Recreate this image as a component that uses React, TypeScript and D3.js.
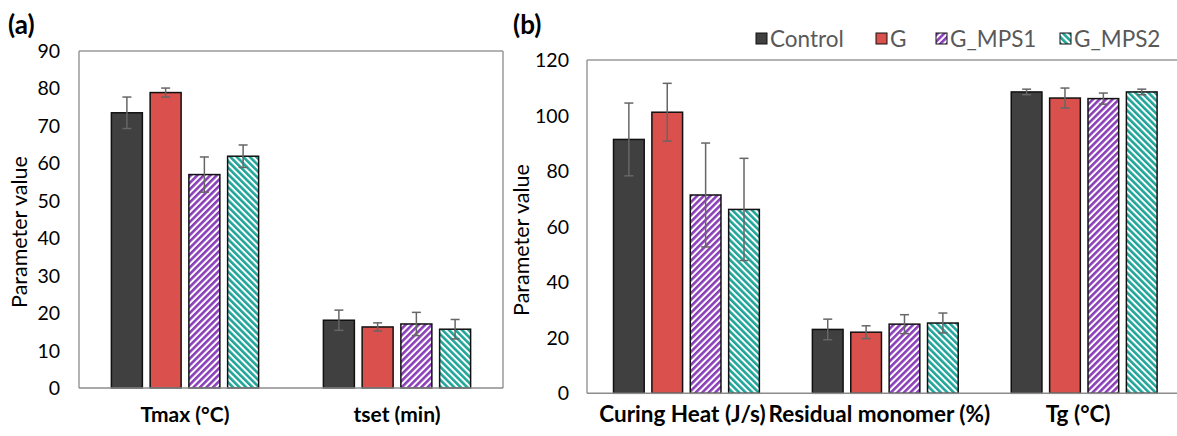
import React from "react";
import * as d3 from "d3";

const series = ["Control", "G", "G_MPS1", "G_MPS2"];
const seriesColors = ["#404040", "#D9504C", "#8A3FB8", "#1FA499"];

const catsA = ["Tmax (°C)", "tset (min)"];
const valuesA = [
  [73.5, 18.1],
  [78.9, 16.3],
  [57.0, 17.1],
  [61.9, 15.7],
];
const errorsA = [
  [4.2, 2.7],
  [1.2, 1.1],
  [4.7, 3.1],
  [3.0, 2.6],
];
const ticksA = [0, 10, 20, 30, 40, 50, 60, 70, 80, 90];

const catsB = ["Curing Heat (J/s)", "Residual monomer (%)", "Tg (°C)"];
const valuesB = [
  [91.4, 23.0, 108.5],
  [101.2, 22.0, 106.3],
  [71.4, 24.9, 106.1],
  [66.2, 25.3, 108.5],
];
const errorsB = [
  [13.1, 3.7, 1.0],
  [10.4, 2.3, 3.6],
  [18.7, 3.4, 2.0],
  [18.4, 3.6, 1.0],
];
const ticksB = [0, 20, 40, 60, 80, 100, 120];

const FONT = "Lato, 'Open Sans', sans-serif";

function Panel({ cats, values, errors, ticks, xRange, yRange, yMax, groupPad, labelDx, labelSize, tickX, titleX, titleY, showRight, rightEdge }) {
  const x = d3.scaleBand().domain(cats).range(xRange).paddingInner(groupPad).paddingOuter(groupPad / 2);
  const xs = d3.scaleBand().domain(series).range([0, x.bandwidth()]).paddingInner(0.2).paddingOuter(0.1);
  const y = d3.scaleLinear().domain([0, yMax]).range(yRange);
  const [x0, x1] = xRange;
  const yTop = y(yMax);
  const yBot = y(0);
  return (
    <g>
      <line x1={x0} x2={rightEdge} y1={yTop} y2={yTop} stroke="#9a9a9a" strokeWidth={1.5} />
      <line x1={x0} x2={x0} y1={yTop} y2={yBot} stroke="#9a9a9a" strokeWidth={1.5} />
      {showRight && <line x1={x1} x2={x1} y1={yTop} y2={yBot} stroke="#9a9a9a" strokeWidth={1.5} />}
      {ticks.map((t) => (
        <text key={t} x={tickX} y={y(t)} dy="0.36em" textAnchor="end" fontFamily={FONT} fontSize={19.5} fill="#000">
          {t}
        </text>
      ))}
      {series.map((s, si) =>
        cats.map((c, ci) => {
          const bx = (x(c) as number) + (xs(s) as number);
          const v = values[si][ci];
          const fill = si < 2 ? seriesColors[si] : `url(#pat${si})`;
          return (
            <rect key={s + c} x={bx} y={y(v)} width={xs.bandwidth()} height={yBot - y(v)} fill={fill} stroke="#111" strokeWidth={1.5} />
          );
        })
      )}
      {series.map((s, si) =>
        cats.map((c, ci) => {
          const cx = (x(c) as number) + (xs(s) as number) + xs.bandwidth() / 2;
          const v = values[si][ci];
          const e = errors[si][ci];
          return (
            <g key={"e" + s + c} stroke="#666" strokeWidth={1.5}>
              <line x1={cx} x2={cx} y1={y(v + e)} y2={y(v - e)} />
              <line x1={cx - 4.5} x2={cx + 4.5} y1={y(v + e)} y2={y(v + e)} />
              <line x1={cx - 4.5} x2={cx + 4.5} y1={y(v - e)} y2={y(v - e)} />
            </g>
          );
        })
      )}
      <line x1={x0} x2={rightEdge} y1={yBot} y2={yBot} stroke="#8c8c8c" strokeWidth={1.5} />
      {cats.map((c, ci) => (
        <text
          key={c}
          x={(x(c) as number) + x.bandwidth() / 2 + labelDx[ci]}
          y={422}
          textAnchor="middle"
          fontFamily={FONT}
          fontWeight="bold"
          fontSize={labelSize}
          fill="#000"
        >
          {c}
        </text>
      ))}
      <text transform={`translate(${titleX},${titleY}) rotate(-90)`} textAnchor="middle" fontFamily={FONT} fontSize={21.5} fill="#000">
        Parameter value
      </text>
    </g>
  );
}

const legendX = [756, 876, 936, 1060];

export default function App() {
  return (
    <svg width={1177} height={436} style={{ position: "absolute", left: 0, top: 0, background: "#fff" }}>
      <defs>
        <pattern id="pat2" patternUnits="userSpaceOnUse" width={4.6} height={4.6} patternTransform="rotate(45)">
          <rect width={4.6} height={4.6} fill="#fff" />
          <rect width={2.6} height={4.6} fill={seriesColors[2]} />
        </pattern>
        <pattern id="pat3" patternUnits="userSpaceOnUse" width={4.6} height={4.6} patternTransform="rotate(-45)">
          <rect width={4.6} height={4.6} fill="#fff" />
          <rect width={2.6} height={4.6} fill={seriesColors[3]} />
        </pattern>
      </defs>
      <rect width={1177} height={436} fill="#fff" />
      <text x={8} y={34} fontFamily={FONT} fontWeight="bold" fontSize={26} fill="#000">(a)</text>
      <text x={513} y={34} fontFamily={FONT} fontWeight="bold" fontSize={26} fill="#000">(b)</text>
      <Panel
        cats={catsA}
        values={valuesA}
        errors={errorsA}
        ticks={ticksA}
        xRange={[79, 503]}
        yRange={[388, 51]}
        yMax={90}
        groupPad={0.269}
        labelDx={[0, 0]}
        labelSize={21}
        tickX={60}
        titleX={27}
        titleY={232}
        showRight={true}
        rightEdge={503}
      />
      <Panel
        cats={catsB}
        values={valuesB}
        errors={errorsB}
        ticks={ticksB}
        xRange={[587, 1183.6]}
        yRange={[393.3, 60]}
        yMax={120}
        groupPad={0.228}
        labelDx={[-4, -6, -6]}
        labelSize={22.5}
        tickX={569}
        titleX={529}
        titleY={240}
        showRight={false}
        rightEdge={1177}
      />
      {series.map((s, si) => (
        <g key={s}>
          <rect x={legendX[si]} y={33} width={11} height={11} fill={si < 2 ? seriesColors[si] : `url(#pat${si})`} stroke="#111" strokeWidth={1} />
          <text x={legendX[si] + 14} y={47} fontFamily={FONT} fontSize={22.5} fill="#595959">{s}</text>
        </g>
      ))}
    </svg>
  );
}
